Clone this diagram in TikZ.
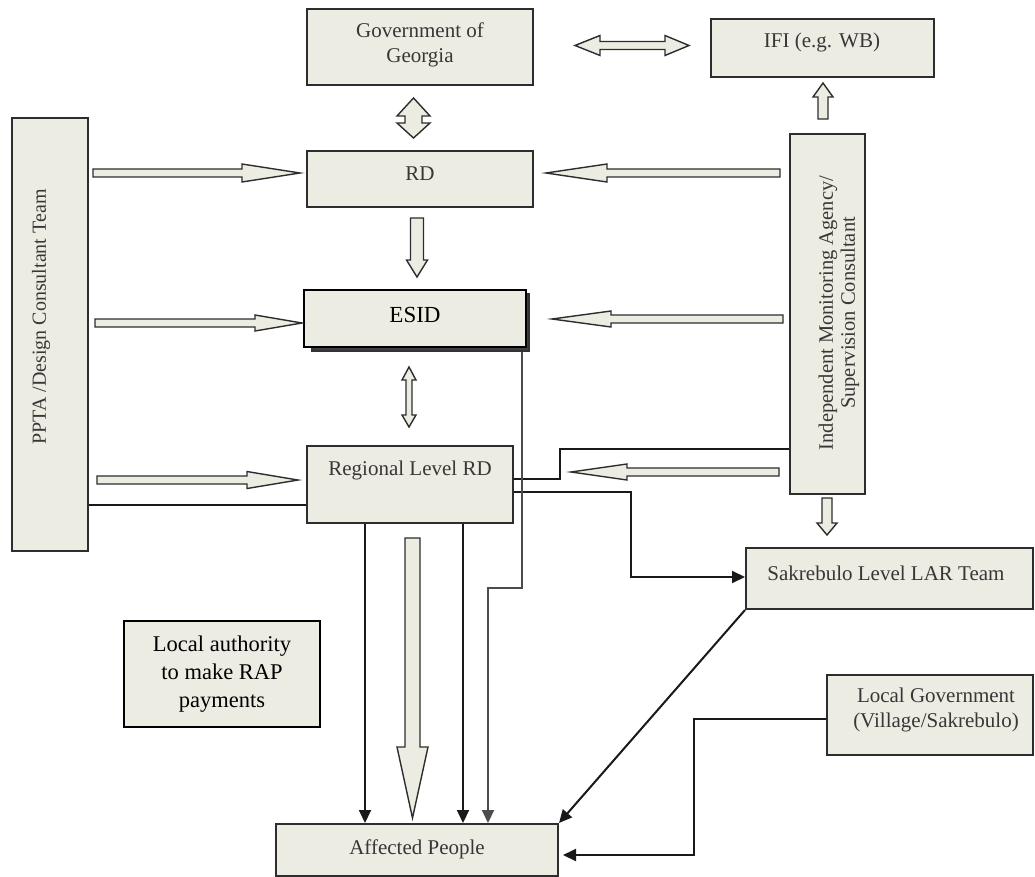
\documentclass[tikz,border=0pt]{standalone}
\usepackage{fontspec}
\setmainfont{Liberation Serif}
\usetikzlibrary{arrows.meta,fit}
\definecolor{bfill}{RGB}{237,236,226}
\definecolor{bline}{RGB}{45,45,45}
\definecolor{tgray}{RGB}{55,55,55}
\tikzset{
  box/.style={draw=bline, line width=2pt, fill=bfill, inner sep=0pt},
  txt/.style={text=tgray, font=\fontsize{21}{25}\selectfont, align=center, inner sep=0pt},
  blk/.style={draw=bline, line width=1.4pt, fill=bfill, line join=miter},
  conn/.style={draw=black!90, line width=2pt},
  tipa/.style={-{Triangle[width=12pt,length=13pt]}},
}
% horizontal block arrow: tail x, tip x, y, shaft half, head half, head back x
\newcommand\harr[6]{\draw[blk] (#1,#3-#4) -- (#6,#3-#4) -- (#6,#3-#5) -- (#2,#3) -- (#6,#3+#5) -- (#6,#3+#4) -- (#1,#3+#4) -- cycle;}
% vertical block arrow: x, tail y, tip y, shaft half, head half, head back y
\newcommand\varr[6]{\draw[blk] (#1-#4,#2) -- (#1-#4,#6) -- (#1-#5,#6) -- (#1,#3) -- (#1+#5,#6) -- (#1+#4,#6) -- (#1+#4,#2) -- cycle;}
\begin{document}
\begin{tikzpicture}[x=1pt,y=-1pt]
\fill[white] (0,0) rectangle (1035,877);
\useasboundingbox (0,0) rectangle (1035,877);

% helper coordinates
\coordinate (h449) at (0,449);
\coordinate (h479) at (0,479);
\coordinate (h492) at (0,492);
\coordinate (h505) at (0,505);
\coordinate (h577) at (0,577);
\coordinate (h719) at (0,719);
\coordinate (h855) at (0,855);
\coordinate (v365) at (365,0);
\coordinate (v463) at (463,0);
\coordinate (v488) at (488,0);
\coordinate (v522) at (522,0);

% boxes
\node[box, fit={(12,118) (88,551)}] (ppta) {};
\node[box, fit={(307,9) (533,85)}] (gov) {};
\node[box, fit={(711,19) (934,77)}] (ifi) {};
\node[box, fit={(307,151) (533,207)}] (rd) {};
\node[box, draw=black!80, fill=black!75, fit={(312,294) (529,351)}] (esidsh) {};
\node[box, draw=black, line width=2.4pt, fit={(304,290) (526,347)}] (esid) {};
\node[box, fit={(307,446) (513,523)}] (reg) {};
\node[box, fit={(790,134) (865,494)}] (ima) {};
\node[box, fit={(746,548) (1033,609)}] (sak) {};
\node[box, fit={(827,675) (1033,755)}] (lg) {};
\node[box, draw=black, fit={(124,621) (320,727)}] (la) {};
\node[box, fit={(276,824) (558,876)}] (aff) {};

% texts
\node[txt] (govt) at (420,45) {Government of\\Georgia};
\node[txt] (ifit) at (822,42) {IFI (e.g. WB)};
\node[txt] (rdt) at (420,174) {RD};
\node[txt, text=black, font=\fontsize{23}{26}\selectfont] (esidt) at (415,315) {ESID};
\node[txt] (regt) at (410,470) {Regional Level RD};
\node[txt, rotate=90, font=\fontsize{20}{25}\selectfont] (pptat) at (41,317) {PPTA /Design Consultant Team};
\node[txt, rotate=90, font=\fontsize{20.5}{22}\selectfont] (imat) at (839,313) {Independent Monitoring Agency/\\Supervision Consultant};
\node[txt] (sakt) at (886,573) {Sakrebulo Level LAR Team};
\node[txt] (lgt) at (936,710) {Local Government\\(Village/Sakrebulo)};
\node[txt, text=black, font=\fontsize{22.5}{28}\selectfont] (lat) at (222,674) {Local authority\\to make RAP\\payments};
\node[txt] (afft) at (417,849) {Affected People};

% block arrows
\harr{93}{300}{173}{4}{9}{242}
\harr{95}{302}{323}{4}{8}{255}
\harr{97}{298}{480}{4}{8.5}{247}
\harr{780}{546}{173}{4}{9}{607}
\harr{783}{552}{319}{4}{8}{611}
\harr{779}{571}{472}{4}{8}{627}
\varr{417}{218}{277}{6.5}{10.5}{260}
\varr{823}{119}{83}{5}{10}{97}
\varr{827}{498}{535}{5}{10}{523}
\varr{412.5}{538}{818}{7.5}{15.5}{747}
% Gov <-> IFI
\draw[blk] (575,45.5) -- (600,35.5) -- (600,41.5) -- (665,41.5) -- (665,35.5) -- (689,45.5) -- (665,55.5) -- (665,49.5) -- (600,49.5) -- (600,55.5) -- cycle;
% Gov <-> RD
\draw[blk] (413.5,98) -- (430,116) -- (422,116) -- (422,123) -- (430,123) -- (413.5,138) -- (397,123) -- (405,123) -- (405,116) -- (397,116) -- cycle;
% ESID <-> Regional
\draw[blk] (409,367) -- (416,380) -- (412,380) -- (412,415) -- (416,415) -- (409,427) -- (402,415) -- (406,415) -- (406,380) -- (402,380) -- cycle;

% connectors
\draw[conn] (ppta.east |- h505) -- (reg.west |- h505);
\draw[conn] (ima.west |- h449) -- (560,449) -- (560,479) -- (reg.east |- h479);
\draw[conn, tipa] (reg.east |- h492) -- (631,492) -- (631,577) -- (sak.west |- h577);
\draw[conn, tipa] (sak.south west) -- (aff.north east);
\draw[conn, tipa] (lg.west |- h719) -- (694,719) -- (694,855) -- (563,855);
\draw[conn, tipa] (reg.south -| v365) -- (aff.north -| v365);
\draw[conn, tipa] (reg.south -| v463) -- (aff.north -| v463);
\draw[conn, draw=black!70, tipa] (esidsh.south -| v522) -- (522,588) -- (488,588) -- (aff.north -| v488);
\end{tikzpicture}
\end{document}
